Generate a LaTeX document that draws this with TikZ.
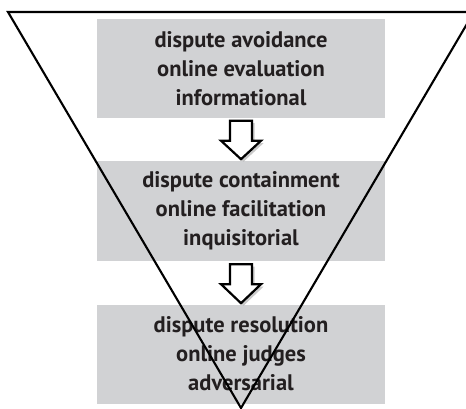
\documentclass[tikz,border=0pt]{standalone}
\usepackage{fontspec}
\setmainfont{PT Sans}
\usetikzlibrary{calc,shadows}
\definecolor{boxgray}{HTML}{D1D2D4}
\definecolor{inkdark}{HTML}{231F20}
\tikzset{
  stagebox/.style={fill=boxgray, draw=none, minimum width=288pt, minimum height=99pt,
    inner sep=0pt, align=center, text=inkdark,
    font=\fontsize{22.5}{29}\selectfont\bfseries},
  blockarrow/.style={draw=black, line width=2.2pt, fill=white, line join=miter,
    drop shadow={shadow xshift=2.5pt, shadow yshift=-2.5pt, fill=black!35, opacity=0.6}},
  funnel/.style={draw=black, line width=2.1pt, line join=miter}
}
\begin{document}
\begin{tikzpicture}[x=1pt,y=-1pt]
\useasboundingbox (0,0) rectangle (466,409);
% the three stages
\node[stagebox] (avoid) at (241,68.5) {dispute avoidance\\online evaluation\\informational};
\node[stagebox] (contain) at (241,211) {dispute containment\\online facilitation\\inquisitorial};
\node[stagebox] (resolve) at (241,354) {dispute resolution\\online judges\\adversarial};
% the funnel outline
\coordinate (tl) at (8,12);
\coordinate (tr) at (474,12);
\coordinate (tip) at (241,408);
\draw[funnel] (tl) -- (tr) -- (tip) -- cycle;
% block arrows between stages
\draw[blockarrow, shift={($(avoid.south)+(0,2.5)$)}]
  (-11,0) -- (11,0) -- (11,20) -- (20,20) -- (0,38.5) -- (-20,20) -- (-11,20) -- cycle;
\draw[blockarrow, shift={($(contain.south)+(0,3.5)$)}]
  (-11,0) -- (11,0) -- (11,20) -- (20,20) -- (0,39) -- (-20,20) -- (-11,20) -- cycle;
\end{tikzpicture}
\end{document}
